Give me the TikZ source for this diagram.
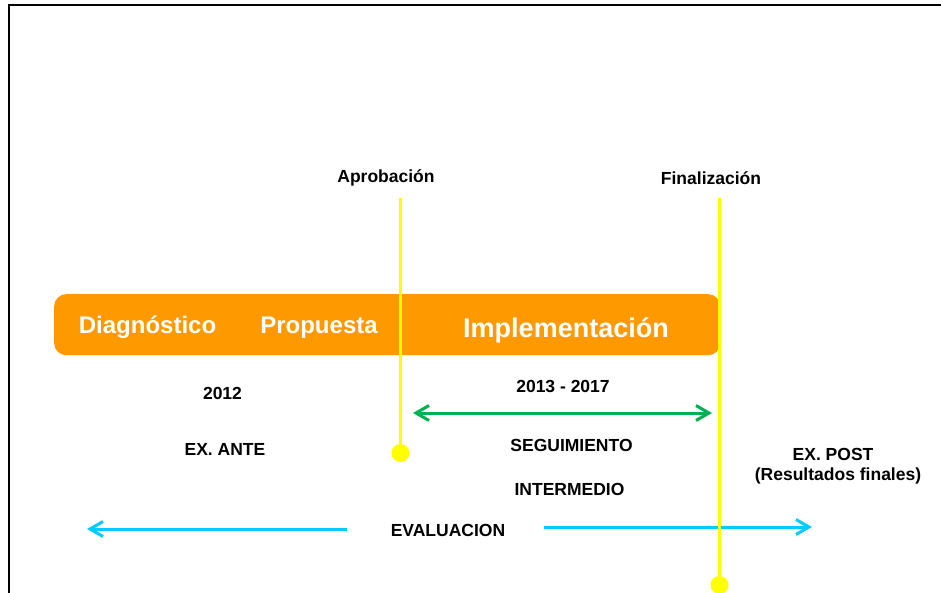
\documentclass[tikz,border=0pt]{standalone}
\usepackage{fontspec}
\setmainfont{Liberation Sans}
\usetikzlibrary{arrows.meta}
\definecolor{orangebar}{HTML}{FF9900}
\definecolor{ylw}{HTML}{FFFF00}
\definecolor{grn}{HTML}{00B050}
\definecolor{cyanarr}{HTML}{00CCFF}
\begin{document}
\begin{tikzpicture}[x=1pt,y=-1pt,
  lbl/.style={font=\fontsize{17.5}{21}\selectfont\bfseries, text=black, inner sep=0pt, anchor=base},
  bartxt/.style={font=\fontsize{24}{28}\selectfont\bfseries, text=white, inner sep=0pt, anchor=base},
  yline/.style={draw=ylw, line width=3.5pt},
  ydot/.style={circle, fill=ylw, minimum size=18pt, inner sep=0pt},
  tip/.tip={Straight Barb[length=13pt,width=15pt]},
  garrow/.style={draw=grn, line width=3pt, tip-tip},
  barrow/.style={draw=cyanarr, line width=3pt, -tip},
]
\useasboundingbox (0,0) rectangle (941,593);
\fill[white] (0,0) rectangle (941,593);
\draw[line width=2pt] (9,593) -- (9,5) -- (941,5);

% orange bar
\node[fill=orangebar, rounded corners=12pt, minimum width=666pt, minimum height=61pt,
      inner sep=0pt, anchor=north west] (bar) at (54,294) {};
\node[bartxt] (diag) at (147.5,333) {Diagnóstico};
\node[bartxt] (prop) at (319,333) {Propuesta};
\node[bartxt, font=\fontsize{27}{32}\selectfont\bfseries] (impl) at (566,337) {Implementación};

% labels
\node[lbl] (apr) at (386,183) {Aprobación};
\node[lbl] (fin) at (711,185) {Finalización};
\node[lbl] (y2012) at (222.5,399) {2012};
\node[lbl] (y1317) at (563,392.5) {2013 - 2017};
\node[lbl] (exante) at (225,455) {EX. ANTE};
\node[lbl] (seg) at (571.5,451.5) {SEGUIMIENTO};
\node[lbl] (inter) at (569.5,495) {INTERMEDIO};
\node[lbl] (eval) at (448,536.5) {EVALUACION};
\node[lbl] (expost) at (833,460) {EX. POST};
\node[lbl] (resfin) at (838,480) {(Resultados finales)};

% green arrow
\coordinate (gL) at (413,413);
\coordinate (gR) at (712,413);
\draw[garrow] (gL) -- (gR);

% blue arrows
\coordinate (bLs) at (347,529);
\coordinate (bLe) at (87,529);
\coordinate (bRs) at (544,527);
\coordinate (bRe) at (812,527);
\draw[barrow] (bLs) -- (bLe);
\draw[barrow] (bRs) -- (bRe);

% yellow milestone lines
\coordinate (aprtop) at (400.5,198);
\coordinate (fintop) at (719.5,198);
\coordinate (aprend) at (400.5,453);
\coordinate (finend) at (719.5,585);
\draw[yline] (aprtop) -- (aprend);
\draw[yline] (fintop) -- (finend);
\node[ydot] (aprdot) at (aprend) {};
\node[ydot] (findot) at (finend) {};
\end{tikzpicture}
\end{document}
